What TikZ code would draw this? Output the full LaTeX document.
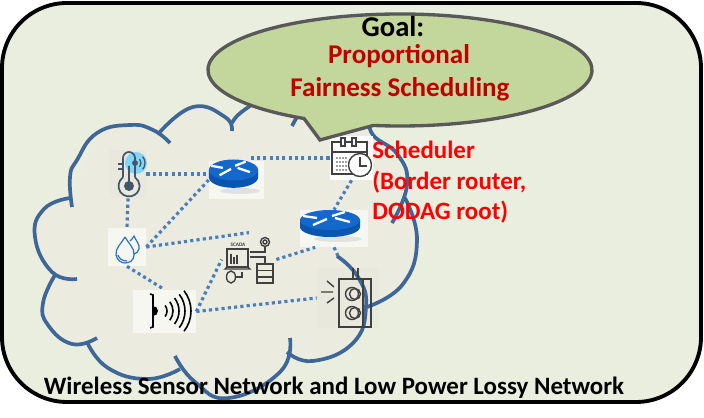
\documentclass[tikz,border=0pt]{standalone}
\usepackage{fontspec}
\setmainfont{Carlito}
\definecolor{panelbg}{HTML}{EAEEDF}
\definecolor{cloudbg}{HTML}{ECEBE0}
\definecolor{cloudblue}{HTML}{3E6797}
\definecolor{linkblue}{HTML}{4A7EBB}
\definecolor{bubblebg}{HTML}{C3D69B}
\definecolor{bubbleline}{HTML}{595959}
\definecolor{goalred}{HTML}{C00000}
\definecolor{iconink}{HTML}{404040}
\definecolor{thermoink}{HTML}{44546A}
\definecolor{dropblue}{HTML}{2E75B6}
\definecolor{routertop}{HTML}{1468CC}
\definecolor{routerside}{HTML}{0A55AE}
\tikzset{
    cloudline/.style={draw=cloudblue, line width=2.1pt},
    lobe/.style={smooth, tension=0.8},
    link/.style={draw=linkblue, line width=1.8pt, dash pattern=on 1.8pt off 1.8pt},
    iconbox/.style 2 args={minimum width=#1*0.02cm, minimum height=#2*0.02cm, inner sep=0pt},
    iconline/.style={draw=iconink, line width=0.8pt},
    routerpic/.pic={
        \fill[routerside] (-30,0) -- (-30,7) arc[start angle=180, end angle=0, x radius=30, y radius=10] -- (30,0) -- cycle;
        \fill[routertop] (0,0) ellipse[x radius=30, y radius=10];
        \draw[white, line width=1.3pt] (-27,-4) -- (-13,-2) (2,-4) -- (15,-8) (-17,5) -- (-3,-1) (5,-2) -- (20,2);
    }
}
\begin{document}
\begin{tikzpicture}[x=0.02cm, y=-0.02cm]
    \useasboundingbox (0,0) rectangle (704,418);
    \draw[fill=panelbg, line width=2.2pt, rounded corners=1.3cm] (2,3) rectangle (701,402);

    \fill[cloudbg] plot[smooth cycle, tension=0.5] coordinates {(70,198) (43,210) (35,237) (53,273) (43,303) (53,333) (87,345) (110,370) (147,379) (180,370) (229,398) (269,383) (287,355) (313,361) (353,343) (366,307) (407,280) (417,240) (405,200) (407,180) (390,147) (372,130) (340,110) (297,110) (248,107) (232,122) (220,110) (193,107) (159,133) (130,125) (97,133)};

    \node (light) [iconbox={62}{60}, fill=iconink, fill opacity=0.015] at (348,298) {};

    \draw[cloudline] plot[lobe] coordinates {(72,207) (70,177) (77,160) (97,133) (130,125) (153,130) (170,143)};
    \draw[cloudline] plot[lobe] coordinates {(159,133) (193,107) (225,117) (232,131)};
    \draw[cloudline] plot[lobe] coordinates {(232,123) (238,115) (250,106)};
    \draw[cloudline] plot[lobe] coordinates {(292,126) (297,117) (303,108)};
    \draw[cloudline] plot[lobe] coordinates {(370,118) (373,135) (398,155) (407,185) (392,223)};
    \draw[cloudline] plot[lobe] coordinates {(405,198) (417,240) (403,284) (367,307)};
    \draw[cloudline] plot[lobe] coordinates {(337,256) (358,277) (366,307) (353,343) (313,361) (287,352)};
    \draw[cloudline] plot[lobe] coordinates {(290,338) (280,372) (229,398) (195,382) (175,356)};
    \draw[cloudline] plot[lobe] coordinates {(180,369) (147,379) (108,368) (87,342)};
    \draw[cloudline] plot[lobe] coordinates {(97,338) (72,344) (48,325) (43,303) (55,275)};
    \draw[cloudline] plot[lobe] coordinates {(77,279) (52,272) (35,237) (44,209) (70,198)};

    \node (temp) [iconbox={36}{48}, fill=iconink, fill opacity=0.015] at (128,174) {};
    \node (drops) [iconbox={38}{38}, fill=white, fill opacity=0.6] at (127,247) {};
    \node (speaker) [iconbox={63}{43}, fill=white, fill opacity=0.6] at (164.5,311.5) {};
    \node (routerA) [iconbox={55}{38}, fill=white, fill opacity=0.6] at (236.5,180) {};
    \node (routerB) [iconbox={68}{37}, fill=white, fill opacity=0.6] at (334,228.5) {};
    \node (scheduler) [iconbox={43}{44}, fill=white] at (351.5,158) {};
    \node (scada) [iconbox={54}{53}] at (249,259.5) {};
    \coordinate (lightstub) at (339,258);

    \draw[link] (temp.east) -- (temp.east -| routerA.west);
    \draw[link] (temp.south) -- (drops.north);
    \draw[link] (drops.east) -- (routerA.west);
    \draw[link] (drops.east) -- (scada.north);
    \draw[link] (drops.south) -- (speaker.north);
    \draw[link] (speaker.east) -- (scada.west);
    \draw[link] (speaker.east) -- (light.west);
    \draw[link] (scada.east) -- (routerB.225);
    \draw[link] (scheduler.west) -- (scheduler.west -| routerA.60);
    \draw[link] (scheduler.south) -- (routerB.north);
    \draw[link] (routerB.south) -- (lightstub);

    \fill[gray!40, opacity=0.5] (240,191) ellipse[x radius=20, y radius=3];
    \fill[gray!40, opacity=0.5] (338,239) ellipse[x radius=24, y radius=3];
    \pic[xscale=0.82, yscale=1.05] at (233.5,170) {routerpic};
    \pic at (330,220) {routerpic};

    \fill[cyan!50] (136,163) circle[radius=11];
    \draw[thermoink, line width=1pt] (123,177.4) -- (123,158) arc[start angle=180, end angle=360, radius=6] -- (135,177.4);
    \draw[thermoink, line width=1pt] (123,177.4) arc[start angle=-125, end angle=-415, radius=10.5];
    \draw[thermoink, line width=1pt] (118,164) -- (123,164) (118,169) -- (123,169);
    \fill[thermoink] (129,186) circle[radius=5];
    \draw[thermoink, line width=1pt] (129,186) -- (129,172) -- (129,166) (135,163) circle[radius=2];
    \draw[thermoink, line width=0.7pt] (135,163)+(-40:6) arc[start angle=-40, end angle=40, radius=6];
    \draw[thermoink, line width=0.7pt] (135,163)+(-40:10) arc[start angle=-40, end angle=40, radius=10];

    \draw[dropblue, line width=0.7pt] (130,241) .. controls (132,239) and (133,238) .. (134,236) .. controls (136,241) and (140,244) .. (139,249) .. controls (138,252) and (136,254) .. (134,254);
    \draw[dropblue, line width=0.7pt] (125,237) .. controls (122,243) and (115,248) .. (116,255) .. controls (117,260) and (121,263) .. (125,263) .. controls (130,263) and (134,260) .. (134,255) .. controls (135,248) and (128,243) .. (125,237);
    \draw[dropblue, line width=0.7pt] (118,255) .. controls (119,259) and (123,261) .. (127,261);

    \draw[black, line width=0.9pt] (150,294) -- (153,295) -- (153,327) -- (150,328);
    \fill[black] (153,306) arc[start angle=-90, end angle=90, radius=5] -- cycle;
    \foreach \r in {9,15,21,27,33}
        \draw[black, line width=0.9pt] (158,311)+(-38:\r) arc[start angle=-38, end angle=38, radius=\r];

    \draw[iconline] (227,249) rectangle (248,267);
    \draw[iconline] (227,267) -- (225,269) -- (250,269) -- (248,267);
    \draw[iconline, line width=0.6pt] (231,254) -- (231,264) (234,257) -- (234,264) (237,255) -- (237,264);
    \node (scadalabel) [font=\bfseries, scale=0.3, text=iconink] at (238,245) {SCADA};
    \draw[iconline] (250,252) -- (265,252) -- (265,247) (250,257) -- (265,257) -- (265,264);
    \draw[iconline] (265,242) circle[radius=4.5];
    \draw[iconline] (265,242) circle[radius=2];
    \draw[iconline] (257,264) rectangle (273,283) (257,270.5) -- (273,270.5) (257,277) -- (273,277);
    \draw[iconline] (231,277) ellipse[x radius=4.5, y radius=6];
    \draw[iconline] (236,277) -- (242,277) -- (242,272);

    \draw[iconline] (332,142) rectangle (367,174) (332,152) -- (367,152);
    \draw[iconline, fill=white] (341,138) rectangle (345,146) (352,138) rectangle (356,146);
    \foreach \px in {337,340,343,346}
        \foreach \py in {158,162,166,170}
            \fill[iconink] (\px,\py) circle[radius=0.8];
    \draw[iconline, fill=white] (360,165) circle[radius=11.5];
    \draw[iconline] (360,157) -- (360,166) -- (367,166);

    \draw[iconline] (339,279) rectangle (371,327) (363,279) -- (363,327);
    \draw[iconline] (353,268) -- (353,279) (358,268) -- (358,279);
    \foreach \py in {294,313} {
        \draw[iconline] (352,\py) circle[radius=6.5];
        \draw[iconline] (355,\py) circle[radius=5.5];
    }
    \draw[iconline] (321,292) -- (333,292) (327,281) -- (334,287) (327,303) -- (334,298);

    \draw[draw=bubbleline, fill=bubblebg, line width=1.9pt] (304,118.5) arc[start angle=120, end angle=458, x radius=192, y radius=56] -- (320,140) -- cycle;

    \node (goal) [font=\bfseries\fontsize{16.3}{18}\selectfont, inner sep=0pt] at (393,27) {Goal:};
    \node (goalA) [font=\bfseries\fontsize{15.4}{18}\selectfont, text=goalred, inner sep=0pt] at (399,56) {Proportional};
    \node (goalB) [font=\bfseries\fontsize{15.4}{18}\selectfont, text=goalred, inner sep=0pt] at (400,89) {Fairness Scheduling};
    \node (schedlabel) [font=\bfseries\fontsize{14.2}{17.3}\selectfont, text=red, align=left, anchor=north west, inner sep=0pt] at (372,141) {Scheduler\\(Border router,\\DODAG root)};
    \node (title) [font=\bfseries\fontsize{14.2}{16}\selectfont, inner sep=0pt] at (334,388) {Wireless Sensor Network and Low Power Lossy Network};
\end{tikzpicture}
\end{document}
